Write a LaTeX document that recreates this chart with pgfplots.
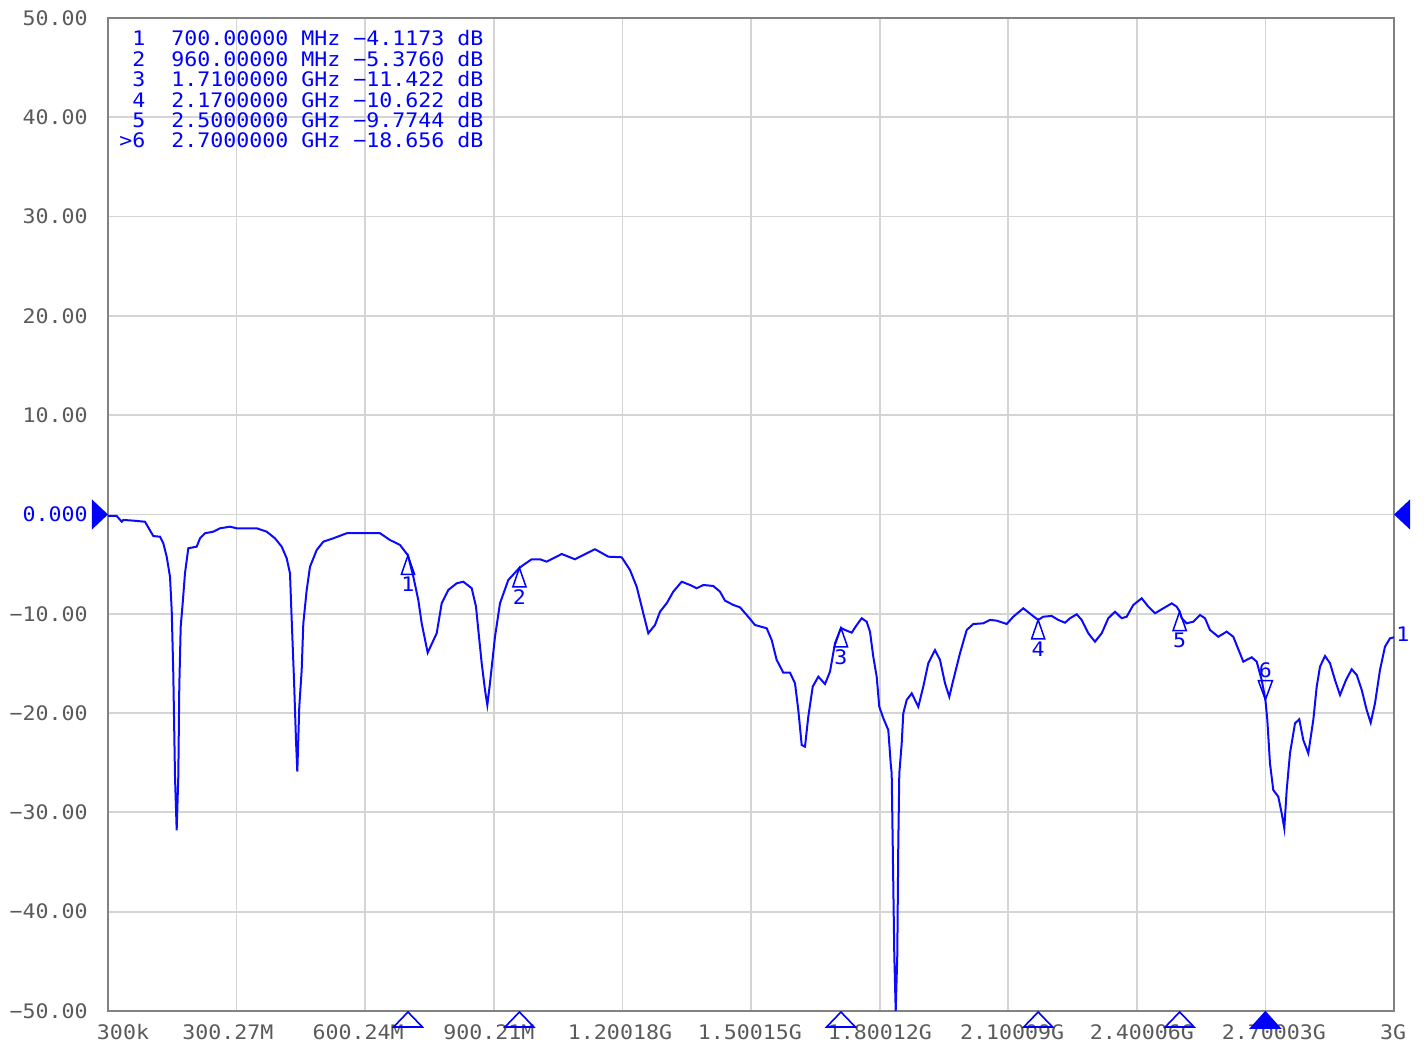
\documentclass[border=0pt]{standalone}
\usepackage{pgfplots}
\pgfplotsset{compat=1.18}
\usepackage{fontspec}
\newfontfamily\vna{DejaVu Sans Mono}[FakeStretch=1.08]
\definecolor{trace}{RGB}{10,10,255}
\definecolor{mk}{RGB}{0,0,255}
\definecolor{gridc}{RGB}{212,212,212}
\definecolor{framec}{RGB}{130,130,130}
\definecolor{lab}{RGB}{90,90,90}
\pgfdeclareplotmark{mup}{\pgfpathmoveto{\pgfqpoint{0pt}{0pt}}\pgfpathlineto{\pgfqpoint{-3.3pt}{-9.5pt}}\pgfpathlineto{\pgfqpoint{3.3pt}{-9.5pt}}\pgfpathclose\pgfusepathqstroke}
\pgfdeclareplotmark{mdown}{\pgfpathmoveto{\pgfqpoint{0pt}{0pt}}\pgfpathlineto{\pgfqpoint{-3.5pt}{9.5pt}}\pgfpathlineto{\pgfqpoint{3.5pt}{9.5pt}}\pgfpathclose\pgfusepathqstroke}
\pgfdeclareplotmark{bup}{\pgfpathmoveto{\pgfqpoint{0pt}{-0.5pt}}\pgfpathlineto{\pgfqpoint{-7.2pt}{-8pt}}\pgfpathlineto{\pgfqpoint{7.2pt}{-8pt}}\pgfpathclose\pgfusepathqstroke}
\pgfdeclareplotmark{bupf}{\pgfpathmoveto{\pgfqpoint{0pt}{-0.5pt}}\pgfpathlineto{\pgfqpoint{-7.2pt}{-8.5pt}}\pgfpathlineto{\pgfqpoint{7.2pt}{-8.5pt}}\pgfpathclose\pgfusepathqfillstroke}
\pgfdeclareplotmark{refR}{\pgfpathmoveto{\pgfqpoint{0pt}{0pt}}\pgfpathlineto{\pgfqpoint{-8pt}{7.5pt}}\pgfpathlineto{\pgfqpoint{-8pt}{-7.5pt}}\pgfpathclose\pgfusepathqfill}
\pgfdeclareplotmark{refL}{\pgfpathmoveto{\pgfqpoint{0pt}{0pt}}\pgfpathlineto{\pgfqpoint{8pt}{7.5pt}}\pgfpathlineto{\pgfqpoint{8pt}{-7.5pt}}\pgfpathclose\pgfusepathqfill}
\pgfplotstableread{
f db
0.3 -0.15
5 -0.15
20.6 -0.15
32.3 -0.73
36 -0.55
59.3 -0.62
86.6 -0.73
102.2 -1.89
106 -2.17
121.6 -2.24
129.3 -2.90
137.2 -4.25
144.9 -6.26
148.9 -9.62
152.6 -15.99
156.6 -26.40
160.5 -31.81
164.3 -26.40
166.6 -17.34
169.9 -11.30
174.5 -8.94
179.9 -5.92
187.6 -3.40
207.2 -3.24
214.9 -2.40
226.6 -1.89
245.9 -1.73
261.6 -1.39
284.9 -1.23
300.5 -1.39
347.2 -1.39
370.5 -1.73
389.8 -2.40
405.5 -3.24
417.1 -4.41
424.8 -5.92
428.8 -10.62
434.2 -16.67
438.8 -22.71
441.9 -25.90
446.5 -19.36
452.1 -15.66
455.9 -10.96
463.8 -7.60
471.5 -5.26
487.1 -3.58
502.5 -2.74
525.8 -2.40
557.1 -1.89
634.8 -1.89
658.1 -2.57
681.4 -3.07
700 -4.1173
712.5 -6.26
724.1 -8.61
732 -10.96
746 -13.92
767 -11.96
778.7 -8.94
794.1 -7.60
813.7 -6.93
829.1 -6.77
848.7 -7.43
858.7 -9.28
864.1 -11.63
872 -14.98
879.7 -17.67
885.1 -19.18
891.3 -17.00
903 -12.31
914.7 -8.94
934 -6.60
960 -5.376
969 -5.09
988.6 -4.51
1008 -4.51
1023.6 -4.75
1058.6 -3.98
1089.6 -4.51
1109 -4.08
1136.3 -3.50
1167.3 -4.25
1198.6 -4.31
1217.9 -5.59
1233.5 -7.27
1248.9 -9.95
1260.6 -11.96
1276.2 -11.13
1287.9 -9.79
1303.5 -8.94
1318.9 -7.77
1338.5 -6.77
1357.9 -7.10
1373.5 -7.43
1388.9 -7.10
1412.2 -7.20
1427.8 -7.77
1439.5 -8.68
1458.9 -9.11
1474.5 -9.35
1490.1 -10.12
1509.5 -11.13
1536.8 -11.46
1548.4 -12.64
1560.1 -14.65
1575.5 -15.93
1591.1 -15.93
1602.8 -17.00
1610.5 -19.69
1618.4 -23.21
1626.1 -23.38
1633.8 -20.36
1644.1 -17.34
1657.2 -16.33
1672.8 -17.07
1684.4 -15.83
1696.1 -12.97
1710 -11.422
1719.4 -11.63
1735.1 -11.90
1746.7 -11.13
1758.4 -10.45
1770 -10.80
1777.7 -11.80
1785.4 -14.32
1793.3 -16.33
1799.4 -19.36
1808.8 -20.52
1820.4 -21.70
1826 -25.06
1828.3 -26.06
1830.7 -33.11
1834.4 -44.36
1837.7 -50
1841.4 -44.36
1843.7 -33.28
1846.1 -26.06
1851.7 -23.04
1855.4 -20.02
1863.3 -18.68
1875 -18.01
1890.4 -19.36
1902 -17.34
1913.7 -14.98
1929.3 -13.65
1941 -14.65
1952.7 -17.00
1962.7 -18.35
1972 -16.67
1987.6 -13.98
2003.3 -11.63
2018.7 -11.03
2042 -10.96
2057.6 -10.62
2073.3 -10.69
2096.6 -11.03
2112 -10.29
2135.3 -9.45
2154.9 -10.12
2170 -10.622
2182 -10.29
2201.6 -10.22
2217 -10.62
2232.6 -10.90
2244.3 -10.45
2259.9 -10.05
2271.5 -10.62
2286.9 -11.96
2302.5 -12.81
2318.2 -11.96
2333.6 -10.45
2349.2 -9.79
2364.8 -10.45
2376.5 -10.29
2391.9 -9.11
2411.5 -8.44
2426.9 -9.28
2442.5 -9.95
2461.9 -9.45
2481.5 -8.95
2493 -9.28
2500 -9.7744
2504.8 -10.45
2516.4 -10.96
2531.8 -10.80
2547.5 -10.12
2559.1 -10.45
2570.8 -11.63
2590.2 -12.31
2609.7 -11.80
2625.1 -12.31
2648.5 -14.82
2668.1 -14.38
2679.7 -14.82
2691.4 -16.67
2700 -18.656
2704.5 -20.69
2710.7 -25.06
2718.4 -27.74
2730.1 -28.42
2738 -30.09
2744.1 -31.60
2749.7 -27.74
2757.4 -24.05
2769.1 -21.03
2779.1 -20.62
2788.4 -22.71
2800.1 -24.05
2811.8 -20.69
2819.7 -17.34
2827.4 -15.33
2839.1 -14.25
2850.7 -14.98
2862.4 -16.67
2874 -18.18
2888 -16.67
2901.3 -15.59
2913 -16.16
2924.7 -17.67
2936.3 -19.69
2945.6 -20.97
2955.7 -19.01
2967.3 -15.66
2979 -13.31
2990.7 -12.47
3000 -12.37
}\tracedata
\pgfplotstableread{
f db l
700 -4.1173 1
960 -5.376 2
1710 -11.422 3
2170 -10.622 4
2500 -9.7744 5
}\markers
\begin{document}
\begin{tikzpicture}
\begin{axis}[
  name=ax,
  scale only axis, width=643pt, height=496.5pt,
  xmin=0.3, xmax=3000, ymin=-50, ymax=50,
  clip=false,
  axis line style={draw=framec, line width=0.9pt},
  grid=major, major grid style={draw=gridc, line width=0.9pt},
  major tick length=0pt, tick style={draw=none},
  scaled x ticks=false,
  xtick={0.3,300.27,600.24,900.21,1200.18,1500.15,1800.12,2100.09,2400.06,2700.03,3000},
  xticklabels={},
  extra x ticks={35.3,280.2,583.5,889,1194.6,1497.8,1801,2109,2412,2720,2997.7},
  extra x tick labels={300k,300.27M,600.24M,900.21M,1.20018G,1.50015G,1.80012G,2.10009G,2.40006G,2.70003G,3G},
  extra x tick style={grid=none},
  xticklabel style={anchor=base, yshift=-14.5pt, inner sep=0pt, font=\fontsize{10}{12}\vna, text=lab},
  ytick={-50,-40,-30,-20,-10,0,10,20,30,40,50},
  yticklabels={−50.00,−40.00,−30.00,−20.00,−10.00,\textcolor{mk}{0.000},10.00,20.00,30.00,40.00,50.00},
  yticklabel style={anchor=east, inner sep=0pt, xshift=-10pt, font=\fontsize{10}{12}\vna, text=lab},
]
\addplot[trace, line width=1pt, mark=none] table[x=f,y=db] {\tracedata};
\addplot[only marks, mark=mup, mark options={draw=mk, line width=0.75pt},
  nodes near coords, point meta=explicit symbolic,
  every node near coord/.append style={anchor=north, yshift=-10.5pt, inner sep=0pt, font=\fontsize{10}{12}\vna, text=mk}]
  table[x=f,y=db,meta=l] {\markers};
\addplot[only marks, mark=mdown, mark options={draw=mk, line width=0.75pt},
  nodes near coords, point meta=explicit symbolic,
  every node near coord/.append style={anchor=south, yshift=10.5pt, inner sep=0pt, font=\fontsize{10}{12}\vna, text=mk}]
  table[meta index=2] {
2700 -18.656 6
};
\addplot[only marks, mark=bup, mark options={draw=mk, line width=0.8pt}] coordinates {(700,-50) (960,-50) (1710,-50) (2170,-50) (2500,-50)};
\addplot[only marks, mark=bupf, mark options={draw=mk, fill=mk, line width=0.8pt}] coordinates {(2700,-50)};
\addplot[only marks, mark=refR, mark options={fill=mk, draw=none}] coordinates {(0.3,0)};
\addplot[only marks, mark=refL, mark options={fill=mk, draw=none}] coordinates {(3000,0)};
\node[anchor=west, inner sep=0pt, xshift=1pt, font=\fontsize{10}{12}\vna, text=mk] at (axis cs:3000,-12.1) {1};
\end{axis}
\begin{scope}[every node/.style={anchor=base west, inner sep=0pt, font=\fontsize{10}{12}\vna, text=mk}]
\node at ([shift={(5.5pt,482.5pt)}]ax.south west) {~1~~700.00000~MHz~−4.1173~dB};
\node at ([shift={(5.5pt,472.3pt)}]ax.south west) {~2~~960.00000~MHz~−5.3760~dB};
\node at ([shift={(5.5pt,462.1pt)}]ax.south west) {~3~~1.7100000~GHz~−11.422~dB};
\node at ([shift={(5.5pt,451.9pt)}]ax.south west) {~4~~2.1700000~GHz~−10.622~dB};
\node at ([shift={(5.5pt,441.7pt)}]ax.south west) {~5~~2.5000000~GHz~−9.7744~dB};
\node at ([shift={(5.5pt,431.5pt)}]ax.south west) {>6~~2.7000000~GHz~−18.656~dB};
\end{scope}
\pgfresetboundingbox
\path[use as bounding box] ([shift={(-54pt,-18.5pt)}]ax.south west) rectangle ([shift={(658.5pt,505.5pt)}]ax.south west);
\end{tikzpicture}
\end{document}
